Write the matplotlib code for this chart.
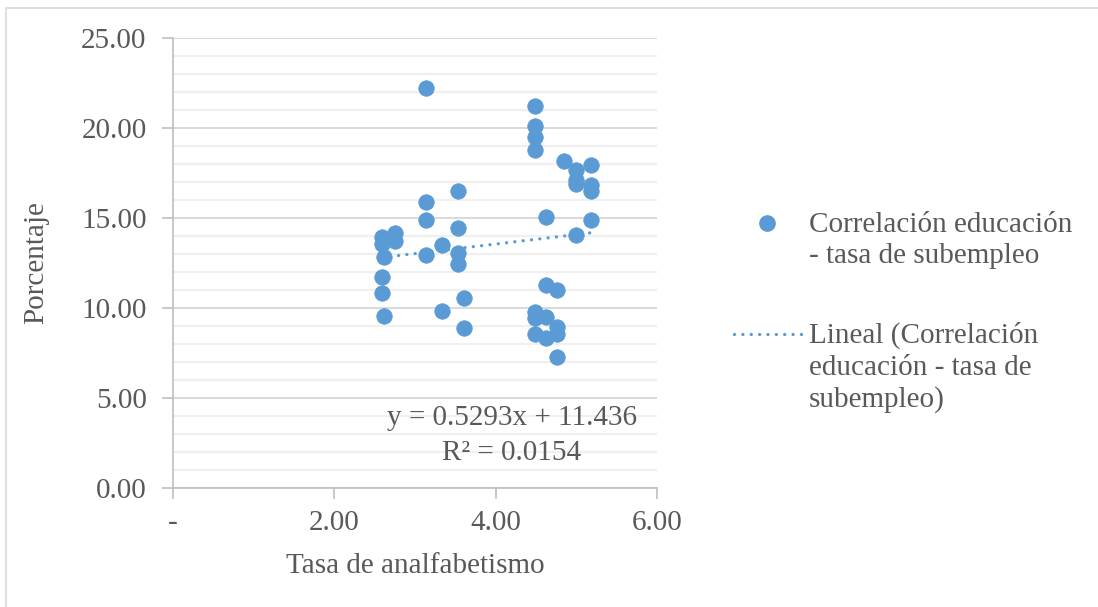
import matplotlib
matplotlib.use("Agg")
import matplotlib.pyplot as plt
from matplotlib.lines import Line2D
from matplotlib.patches import Rectangle
import numpy as np

# Data
tasa_analfabetismo = [3.14, 4.49, 4.49, 4.49, 4.49, 4.85, 5.00, 5.18, 5.00, 5.00,
                      5.18, 5.18, 3.53, 3.14, 3.14, 4.62, 5.18, 3.53, 5.00, 2.59,
                      2.75, 2.75, 2.59, 3.33, 3.53, 2.62, 3.14, 3.53, 2.59, 2.59,
                      2.62, 3.33, 3.61, 3.61, 4.62, 4.76, 4.49, 4.49, 4.62, 4.49,
                      4.62, 4.76, 4.76, 4.76]
porcentaje_subempleo = [22.22, 21.25, 20.11, 19.50, 18.78, 18.17, 17.67, 17.94, 17.10, 16.89,
                        16.83, 16.50, 16.50, 15.89, 14.89, 15.06, 14.89, 14.44, 14.06, 13.94,
                        14.17, 13.72, 13.56, 13.50, 13.06, 12.83, 12.94, 12.44, 11.72, 10.83,
                        9.56, 9.85, 10.56, 8.89, 11.28, 11.00, 9.78, 9.44, 9.50, 8.56,
                        8.33, 8.94, 8.56, 7.28]
trend_slope = 0.5293
trend_intercept = 11.436
r_squared = 0.0154
x_ticks = [0, 2, 4, 6]
x_tick_labels = ["-", "2.00", "4.00", "6.00"]
y_ticks = [0, 5, 10, 15, 20, 25]
y_tick_labels = ["0.00", "5.00", "10.00", "15.00", "20.00", "25.00"]
legend_scatter_lines = ["Correlación educación", "- tasa de subempleo"]
legend_trend_lines = ["Lineal (Correlación", "educación - tasa de", "subempleo)"]

blue = "#5B9BD5"
text_col = "#595959"
FS = 21
DOTS = (0, (0.01, 2.5))
plt.rcParams["font.family"] = ["Liberation Serif", "DejaVu Serif"]

W, H = 1098, 607
fig = plt.figure(figsize=(W / 100, H / 100), dpi=100)
fig.patches.append(Rectangle((6 / W, -0.05), 1.2, 1 - 8 / H + 0.05, transform=fig.transFigure,
                             fill=False, edgecolor="#d9d9d9", linewidth=1.2, zorder=0))

def fx(px):
    return px / W

def fy(py):
    return 1 - py / H

ax = fig.add_axes([fx(173), fy(488), (657 - 173) / W, (488 - 38) / H])
ax.set_xlim(0, 6)
ax.set_ylim(0, 25)

# gridlines
ax.set_yticks(np.arange(0, 26, 1), minor=True)
ax.grid(which="minor", axis="y", color="#f0f0f0", linewidth=1.6, zorder=0)
ax.grid(which="major", axis="y", color="#d9d9d9", linewidth=1.4, zorder=0)
ax.grid(which="major", axis="x", visible=False)
ax.tick_params(which="minor", length=0)

ax.set_xticks(x_ticks)
ax.set_xticklabels(x_tick_labels)
ax.set_yticks(y_ticks)
ax.set_yticklabels(y_tick_labels)
ax.tick_params(axis="both", which="major", labelsize=FS, labelcolor=text_col,
               color="#bfbfbf", length=8, width=1.2, direction="out")
ax.tick_params(axis="x", pad=8)
ax.tick_params(axis="y", pad=11)

for s in ["top", "right"]:
    ax.spines[s].set_visible(False)
for s in ["left", "bottom"]:
    ax.spines[s].set_color("#bfbfbf")
    ax.spines[s].set_linewidth(1.2)

ax.scatter(tasa_analfabetismo, porcentaje_subempleo, s=125, color=blue,
           edgecolors=blue, linewidths=0.5, zorder=3)

xt = np.array([min(tasa_analfabetismo), max(tasa_analfabetismo)])
ax.plot(xt, trend_slope * xt + trend_intercept, color=blue, linewidth=2.4,
        linestyle=DOTS, dash_capstyle="round", zorder=4)

ax.text(4.2, 3.9, f"y = {trend_slope}x + {trend_intercept}", ha="center", va="center",
        fontsize=FS, color=text_col)
ax.text(4.2, 1.95, f"R² = {r_squared}", ha="center", va="center",
        fontsize=FS, color=text_col)

ax.set_xlabel("Tasa de analfabetismo", fontsize=FS, color=text_col)
ax.set_ylabel("Porcentaje", fontsize=FS, color=text_col)
ax.xaxis.set_label_coords(0.5, -0.145)
ax.yaxis.set_label_coords(-0.255, 0.5)

# Legend (handles aligned with the first line of each entry, as in the original)
fig.add_artist(Line2D([fx(767)], [fy(223)], marker="o", linestyle="none", color=blue,
                      markersize=11, transform=fig.transFigure))
fig.add_artist(Line2D([fx(734), fx(801)], [fy(334), fy(334)], color=blue, linewidth=2.4,
                      linestyle=DOTS, dash_capstyle="round", transform=fig.transFigure))
for i, line in enumerate(legend_scatter_lines):
    fig.text(fx(809), fy(232 + 31 * i), line, fontsize=FS, color=text_col,
             ha="left", va="baseline")
for i, line in enumerate(legend_trend_lines):
    fig.text(fx(809), fy(343 + 32 * i), line, fontsize=FS, color=text_col,
             ha="left", va="baseline")

fig.savefig("out.png", dpi=100)
